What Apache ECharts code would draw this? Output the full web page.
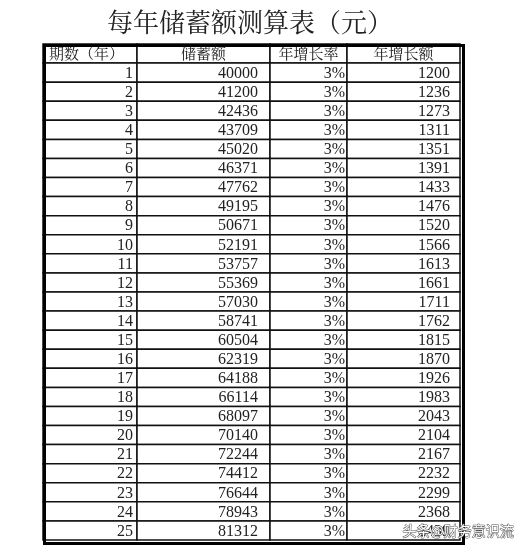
<!DOCTYPE html>
<html><head><meta charset="utf-8">
<script src="https://cdn.jsdelivr.net/npm/echarts@6/dist/echarts.min.js"></script>
<style>html,body{margin:0;background:#fff}#c{width:524px;height:547px}</style>
</head><body><div id="c"></div>
<script>
const headers = ['期数（年）', '储蓄额', '年增长率', '年增长额']
const years = [1,2,3,4,5,6,7,8,9,10,11,12,13,14,15,16,17,18,19,20,21,22,23,24,25]
const savings = [40000,41200,42436,43709,45020,46371,47762,49195,50671,52191,53757,55369,57030,58741,60504,62319,64188,66114,68097,70140,72244,74412,76644,78943,81312]
const rates = years.map(() => '3%')
const growth = [1200,1236,1273,1311,1351,1391,1433,1476,1520,1566,1613,1661,1711,1762,1815,1870,1926,1983,2043,2104,2167,2232,2299,2368,2439]

// column edges in axis units, right padding per column
const colEdges = [0, 94, 227, 304, 417]
const padRight = [4, 12, 2, 10]
const font = '"Liberation Serif", "Noto Serif CJK SC", "Noto Sans CJK SC", serif'

const rowNames = ['h'].concat(years.map(String))
const cells = []
headers.forEach((h, c) => cells.push([c, 0, h]))
years.forEach((y, i) => {
  cells.push([0, i + 1, String(y)])
  cells.push([1, i + 1, String(savings[i])])
  cells.push([2, i + 1, rates[i]])
  cells.push([3, i + 1, String(growth[i])])
})

const chart = echarts.init(document.getElementById('c'))
chart.setOption({
  animation: false,
  title: {
    text: '每年储蓄额测算表（元）', left: 245, top: 7, textAlign: 'center',
    textStyle: { fontSize: 26, fontWeight: 'normal', color: '#222', fontFamily: font }
  },
  grid: { left: 43, right: 64, top: 44, bottom: 7 },
  xAxis: { type: 'value', min: 0, max: 417, show: false },
  yAxis: { type: 'category', data: rowNames, inverse: true, show: false },
  series: [{
    type: 'custom',
    data: cells,
    renderItem: (params, api) => {
      const c = api.value(0), r = api.value(1)
      const txt = cells[params.dataIndex][2]
      const p0 = api.coord([colEdges[c], r])
      const p1 = api.coord([colEdges[c + 1], r])
      const h = api.size([0, 1])[1]
      const x0 = p0[0], x1 = p1[0], y0 = p0[1] - h / 2
      let tx, align
      if (r === 0) {
        if (c === 0) { tx = x0 + 6; align = 'left' } else { tx = (x0 + x1) / 2; align = 'center' }
      } else { tx = x1 - padRight[c]; align = 'right' }
      return {
        type: 'group',
        children: [
          { type: 'rect', shape: { x: x0, y: y0, width: x1 - x0, height: h },
            style: { fill: '#fff', stroke: '#111', lineWidth: 1.5 } },
          { type: 'text', style: { x: tx, y: y0 + h / 2 + (r === 0 ? 2 : 1), text: txt, align: align, verticalAlign: 'middle',
            font: (r === 0 ? '15px ' : '16px ') + font, fill: '#222' } }
        ]
      }
    }
  }],
  graphic: [
    { type: 'rect', left: 42, top: 43, shape: { width: 419, height: 498 },
      style: { fill: 'none', stroke: '#000', lineWidth: 3 }, z: 100 },
    { type: 'text', left: 402, top: 523, z: 101,
      style: { text: '头条@财务意识流', font: '14px "Noto Sans CJK SC"', fill: '#fff',
        stroke: '#555', lineWidth: 1 } }
  ]
})
</script></body></html>
